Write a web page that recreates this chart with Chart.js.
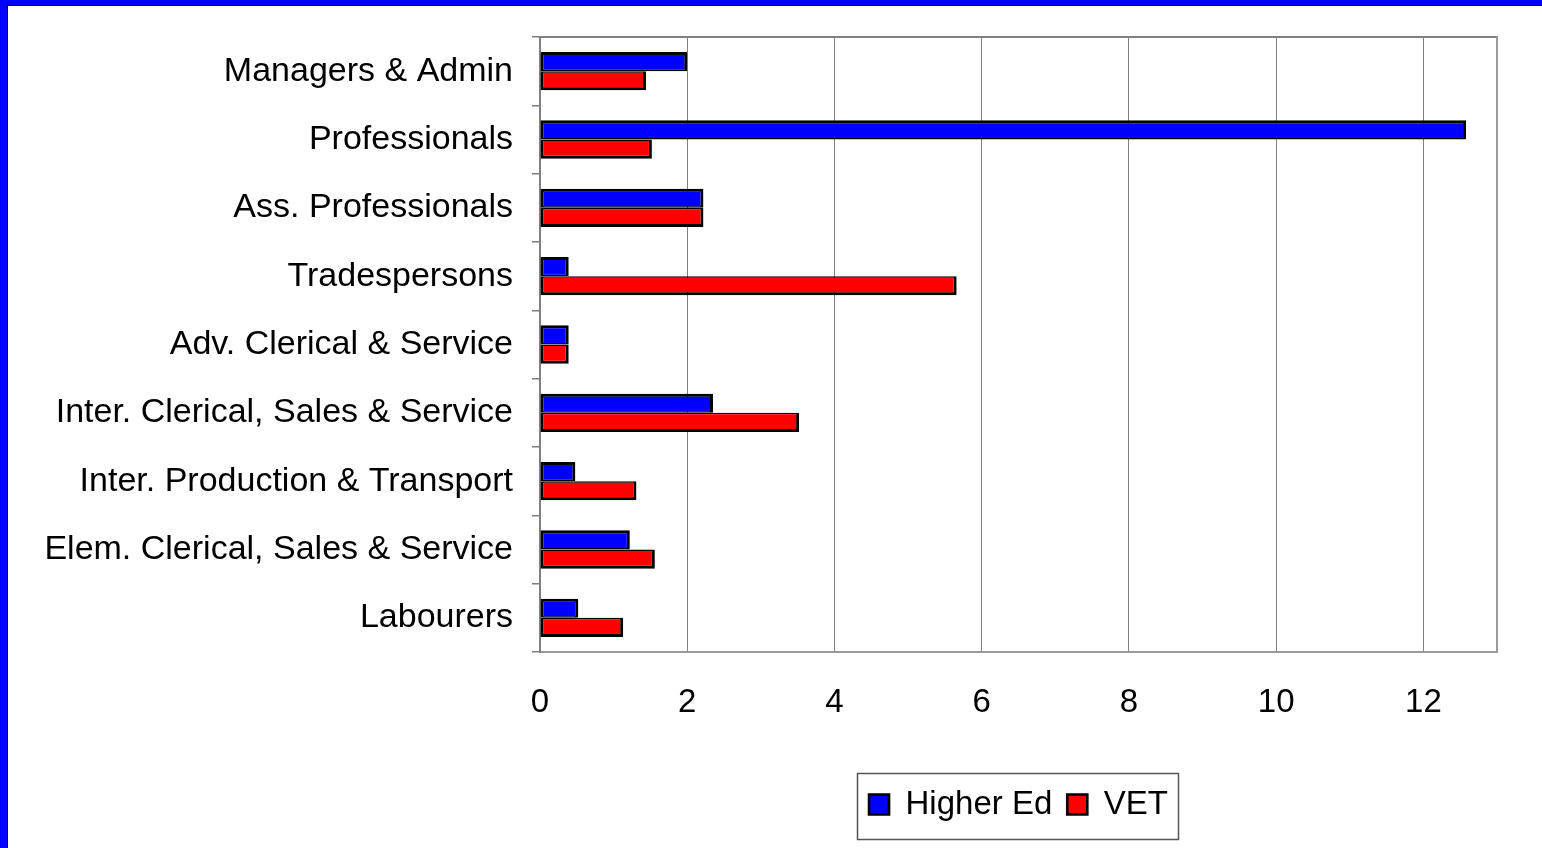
<!DOCTYPE html>
<html>
<head>
<meta charset="utf-8">
<title>Higher Ed vs VET by occupation</title>
<script src="https://cdn.jsdelivr.net/npm/chart.js@4"></script>
<style>
  html, body { margin: 0; padding: 0; background: #0000ff; overflow: hidden; }
  #frame {
    position: absolute; left: 7px; top: 5px;
    width: 1534px; height: 842px;
    border-left: 1px solid #000; border-top: 1px solid #000;
    background: #fff;
  }
  canvas { display: block; }
</style>
</head>
<body>
<div id="frame"><canvas id="chart" width="1534" height="842"></canvas></div>
<script>
// ── Data ──────────────────────────────────────────────────────
const occupations = [
  "Managers & Admin",
  "Professionals",
  "Ass. Professionals",
  "Tradespersons",
  "Adv. Clerical & Service",
  "Inter. Clerical, Sales & Service",
  "Inter. Production & Transport",
  "Elem. Clerical, Sales & Service",
  "Labourers"
];
const higherEd = [2.0, 12.58, 2.22, 0.39, 0.39, 2.35, 0.48, 1.22, 0.52];
const vet      = [1.44, 1.52, 2.22, 5.66, 0.39, 3.52, 1.31, 1.56, 1.13];
const seriesNames = ["Higher Ed", "VET"];

const FONT = "'Liberation Sans', Arial, sans-serif";

// Frame on top/right of the plot area + box round the legend
const framePlugin = {
  id: "framePlugin",
  afterDraw(chart) {
    const ctx = chart.ctx;
    const a = chart.chartArea;
    ctx.save();
    ctx.strokeStyle = "#808080";
    ctx.lineWidth = 2;
    ctx.beginPath();
    ctx.moveTo(a.left, a.top);
    ctx.lineTo(a.right, a.top);
    ctx.stroke();
    ctx.strokeStyle = "#999";
    ctx.beginPath();
    ctx.moveTo(a.right, a.top - 1);
    ctx.lineTo(a.right, a.bottom + 1);
    ctx.stroke();

    const boxes = chart.legend.legendHitBoxes;
    if (boxes && boxes.length) {
      const left   = Math.min(...boxes.map(b => b.left)) - 12;
      const right  = Math.max(...boxes.map(b => b.left + b.width)) + 10;
      const top    = Math.min(...boxes.map(b => b.top)) - 15;
      const bottom = Math.max(...boxes.map(b => b.top + b.height)) + 18;
      ctx.strokeStyle = "#555";
      ctx.lineWidth = 1.5;
      ctx.strokeRect(Math.round(left) + 0.5, Math.round(top) + 0.5,
                     Math.round(right - left), Math.round(bottom - top));
    }
    ctx.restore();
  }
};

new Chart(document.getElementById("chart"), {
  type: "bar",
  data: {
    labels: occupations,
    datasets: [
      {
        label: seriesNames[0],
        data: higherEd,
        backgroundColor: "#0000ff",
        borderColor: "#000",
        borderWidth: { top: 3, right: 3, bottom: 1.5, left: 3 },
        borderSkipped: false
      },
      {
        label: seriesNames[1],
        data: vet,
        backgroundColor: "#ff0000",
        borderColor: "#000",
        borderWidth: { top: 1.5, right: 3, bottom: 3, left: 3 },
        borderSkipped: false
      }
    ]
  },
  options: {
    indexAxis: "y",
    responsive: false,
    animation: false,
    categoryPercentage: 0.56,
    barPercentage: 1.0,
    layout: { padding: { top: 31, right: 45, bottom: 17, left: 0 } },
    plugins: {
      tooltip: { enabled: false },
      legend: {
        position: "bottom",
        fullSize: false,
        labels: {
          color: "#000",
          font: { family: FONT, size: 33 },
          boxWidth: 20,
          boxHeight: 20,
          padding: 15
        }
      }
    },
    scales: {
      x: {
        min: 0,
        max: 13,
        afterFit: (scale) => { scale.height = 121; },
        ticks: {
          stepSize: 2,
          includeBounds: false,
          color: "#000",
          padding: 31,
          font: { family: FONT, size: 33 }
        },
        grid: { color: "#808080", lineWidth: 1, drawTicks: false },
        border: { display: true, color: "#999", width: 2 }
      },
      y: {
        afterFit: (scale) => {
          scale.width = 532;
          scale.paddingTop = 0;
          scale.paddingBottom = 0;
        },
        ticks: {
          color: "#000",
          padding: 19,
          font: { family: FONT, size: 34 }
        },
        grid: {
          offset: true,
          drawOnChartArea: false,
          drawTicks: true,
          tickLength: 8,
          color: "#808080",
          lineWidth: 1.5
        },
        border: { display: true, color: "#808080", width: 2 }
      }
    }
  },
  plugins: [framePlugin]
});
</script>
</body>
</html>
